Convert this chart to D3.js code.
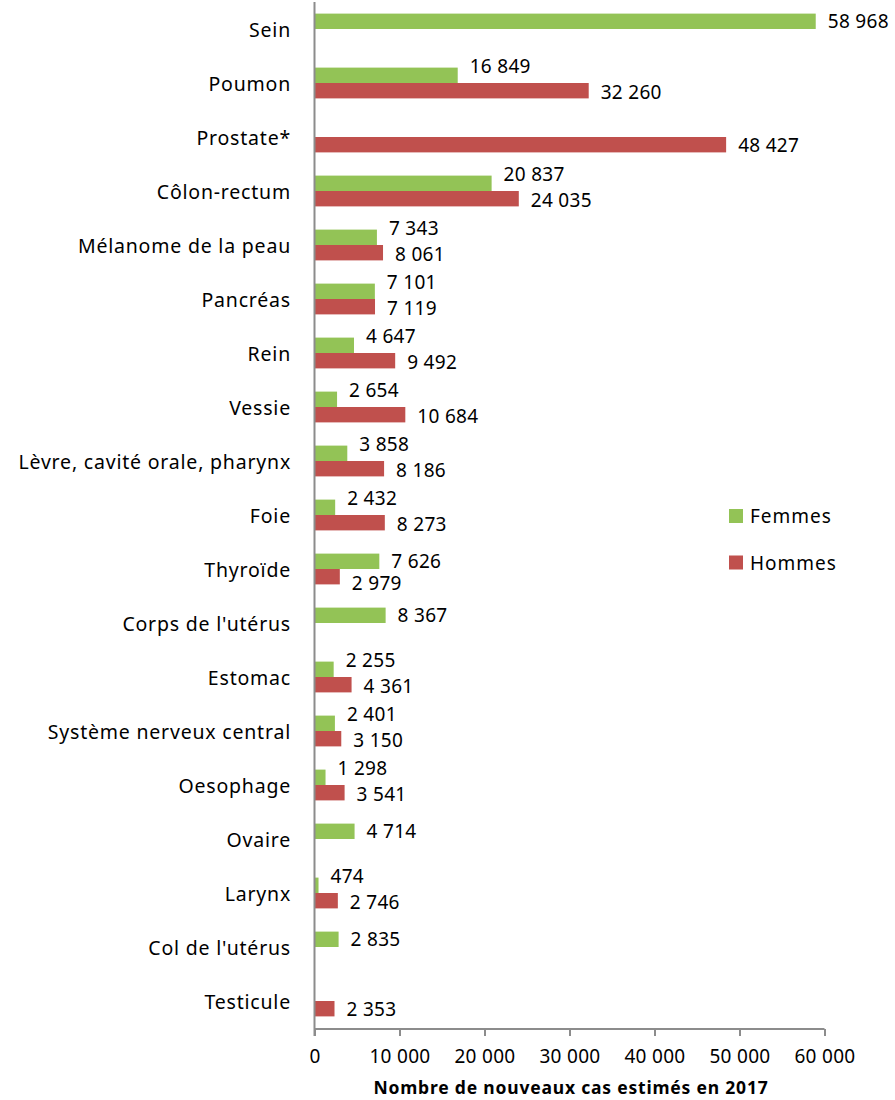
<!DOCTYPE html>
<html>
<head>
<meta charset="utf-8">
<script src="https://cdn.jsdelivr.net/npm/d3@7"></script>
<style>
  body { margin: 0; background: #fff; }
  svg text { font-family: 'Noto Sans', 'Open Sans', sans-serif; fill: #000; }
</style>
</head>
<body>
<div id="chart"></div>
<script>
const categories = [
  'Sein', 'Poumon', 'Prostate*', 'Côlon-rectum', 'Mélanome de la peau', 'Pancréas',
  'Rein', 'Vessie', 'Lèvre, cavité orale, pharynx', 'Foie', 'Thyroïde',
  "Corps de l'utérus", 'Estomac', 'Système nerveux central', 'Oesophage', 'Ovaire',
  'Larynx', "Col de l'utérus", 'Testicule'
];
const femmes = [58968, 16849, null, 20837, 7343, 7101, 4647, 2654, 3858, 2432, 7626, 8367, 2255, 2401, 1298, 4714, 474, 2835, null];
const hommes = [null, 32260, 48427, 24035, 8061, 7119, 9492, 10684, 8186, 8273, 2979, null, 4361, 3150, 3541, null, 2746, null, 2353];
const series = ['Femmes', 'Hommes'];
const xTicks = [0, 10000, 20000, 30000, 40000, 50000, 60000];
const axisTitle = 'Nombre de nouveaux cas estimés en 2017';

const colours = { Femmes: '#93c356', Hommes: '#c0504d' };
const AXIS_GRAY = '#8c8c8c';
const FONT = "'Noto Sans', 'Open Sans', sans-serif";

const width = 895;
const height = 1100;
const fontSize = 19;

const fr = d3.formatLocale({ decimal: ',', thousands: '\u00a0', grouping: [3], currency: ['', ' €'] });
const fmt = fr.format(',d');

const svg = d3.select('#chart')
  .append('svg')
  .attr('width', width)
  .attr('height', height);

const x = d3.scaleLinear()
  .domain([0, 60000])
  .range([314.5, 824.5]);

const y = d3.scaleBand()
  .domain(categories)
  .range([2, 1028])
  .paddingInner(0.43)
  .paddingOuter(0.215);

const sub = d3.scaleBand()
  .domain(series)
  .range([0, y.bandwidth()]);

// Rows: one entry per category and series, skipping missing values.
const rows = categories.flatMap((cat, i) => [
  { cat, key: 'Femmes', value: femmes[i], other: hommes[i] },
  { cat, key: 'Hommes', value: hommes[i], other: femmes[i] }
]).filter(d => d.value != null);

// Bars.
svg.append('g')
  .selectAll('rect')
  .data(rows)
  .join('rect')
  .attr('x', x(0))
  .attr('y', d => y(d.cat) + sub(d.key))
  .attr('width', d => x(d.value) - x(0))
  .attr('height', sub.bandwidth())
  .attr('fill', d => colours[d.key]);

// Value labels: keep the two labels of a pair apart, the smaller one moves most.
const labelShift = d => {
  if (d.other == null) return 0;
  if (d.key === 'Femmes') return d.value < d.other ? -9 : 0;
  return d.value < d.other ? 6.5 : 1;
};

svg.append('g')
  .selectAll('text')
  .data(rows)
  .join('text')
  .attr('x', d => x(d.value) + 12)
  .attr('y', d => y(d.cat) + sub(d.key) + sub.bandwidth() / 2 + labelShift(d))
  .attr('dominant-baseline', 'central')
  .style('font-size', fontSize + 'px')
  .style('letter-spacing', '0.3px')
  .text(d => fmt(d.value));

// Category axis.
svg.append('line')
  .attr('x1', x(0)).attr('x2', x(0))
  .attr('y1', 2).attr('y2', 1036)
  .attr('stroke', AXIS_GRAY)
  .attr('stroke-width', 2);

svg.append('g')
  .selectAll('text')
  .data(categories)
  .join('text')
  .attr('x', 291)
  .attr('y', d => y(d) + y.bandwidth() / 2)
  .attr('text-anchor', 'end')
  .attr('dominant-baseline', 'central')
  .style('font-size', '19.5px')
  .style('letter-spacing', '0.8px')
  .text(d => d);

// Value axis.
const xAxis = d3.axisBottom(x)
  .tickValues(xTicks)
  .tickSize(7)
  .tickPadding(14)
  .tickFormat(fmt);

const gx = svg.append('g')
  .attr('transform', 'translate(0,1029)')
  .call(xAxis);

gx.select('.domain')
  .attr('d', `M${x(0)},0H${x(60000)}`)
  .attr('stroke', AXIS_GRAY)
  .attr('stroke-width', 2);
gx.selectAll('.tick line')
  .attr('stroke', AXIS_GRAY)
  .attr('stroke-width', 2);
gx.selectAll('.tick text')
  .style('font-family', FONT)
  .style('font-size', fontSize + 'px')
  .style('letter-spacing', '0.3px')
  .attr('fill', '#000');

svg.append('text')
  .attr('x', 571)
  .attr('y', 1094)
  .attr('text-anchor', 'middle')
  .style('font-size', '17.5px')
  .style('font-weight', 'bold')
  .style('letter-spacing', '0.8px')
  .text(axisTitle);

// Legend.
const legend = svg.append('g')
  .selectAll('g')
  .data(series)
  .join('g')
  .attr('transform', (d, i) => `translate(729,${509 + i * 46.5})`);

legend.append('rect')
  .attr('width', 14)
  .attr('height', 14)
  .attr('fill', d => colours[d]);

legend.append('text')
  .attr('x', 21)
  .attr('y', 7)
  .attr('dominant-baseline', 'central')
  .style('font-size', fontSize + 'px')
  .style('letter-spacing', '1px')
  .text(d => d);
</script>
</body>
</html>
